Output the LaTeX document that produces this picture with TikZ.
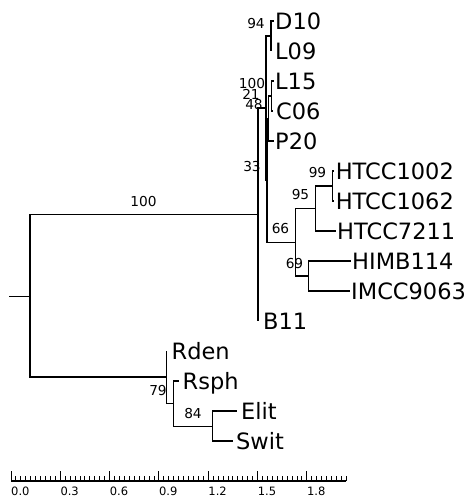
\documentclass[tikz,border=0pt]{standalone}
\usepackage{fontspec}
\setmainfont{DejaVu Sans}
\begin{document}
\begin{tikzpicture}[x=1pt,y=-1pt,
  hb/.style={line width=1.5pt,line cap=rect},
  vb/.style={line width=1.2pt},
  leaf/.style={anchor=base west,inner sep=0pt,font=\fontsize{22.5}{23}\selectfont},
  sup/.style={anchor=base,inner sep=0pt,font=\fontsize{13.7}{14}\selectfont},
  sclab/.style={anchor=base west,inner sep=0pt,font=\fontsize{11.5}{12}\selectfont},
  tick/.style={line width=1pt},
  scaleline/.style={line width=1.2pt},
]
\useasboundingbox (0,0) rectangle (469,504);

% ---- internal nodes and tips
\coordinate (stub) at (10,296.5);
\coordinate (R) at (30,296.5);
\coordinate (U) at (258,214.4);
\coordinate (A) at (266,108);
\coordinate (N94) at (271,36);
\coordinate (tD10) at (273,21);
\coordinate (tL09) at (271,51);
\coordinate (N33) at (267,180);
\coordinate (N48) at (268.7,118.5);
\coordinate (N100) at (271.3,96);
\coordinate (tL15) at (273,81);
\coordinate (tC06) at (272.5,111);
\coordinate (tP20) at (273,141);
\coordinate (N66) at (295.7,242.5);
\coordinate (N95) at (315.7,208.5);
\coordinate (N99) at (332.3,186);
\coordinate (tH1002) at (333.5,171);
\coordinate (tH1062) at (333.5,201);
\coordinate (tH7211) at (335.7,231);
\coordinate (N69) at (308.3,276);
\coordinate (tHIMB) at (350,261);
\coordinate (tIMCC) at (349,291);
\coordinate (tB11) at (258,321);
\coordinate (Rn) at (166.5,377);
\coordinate (tRden) at (166.5,351);
\coordinate (N79) at (173.3,403.5);
\coordinate (tRsph) at (178,381);
\coordinate (N84) at (212.7,426.5);
\coordinate (tElit) at (236.7,411);
\coordinate (tSwit) at (232.5,441);

% ---- vertical lines
\draw[vb] (R |- U) -- (R |- Rn);
\draw[vb] (U |- A) -- (U |- tB11);
\draw[vb] (A |- N94) -- (A |- N33);
\draw[vb] (N94 |- tD10) -- (N94 |- tL09);
\draw[vb] (N33 |- N48) -- (N33 |- N66);
\draw[vb] (N48 |- N100) -- (N48 |- tP20);
\draw[vb] (N100 |- tL15) -- (N100 |- tC06);
\draw[vb] (N66 |- N95) -- (N66 |- N69);
\draw[vb] (N95 |- N99) -- (N95 |- tH7211);
\draw[vb] (N99 |- tH1002) -- (N99 |- tH1062);
\draw[vb] (N69 |- tHIMB) -- (N69 |- tIMCC);
\draw[vb] (Rn |- tRden) -- (Rn |- N79);
\draw[vb] (N79 |- tRsph) -- (N79 |- N84);
\draw[vb] (N84 |- tElit) -- (N84 |- tSwit);

% ---- horizontal lines
\draw[hb] (stub) -- (R);
\draw[hb] (R |- U) -- (U);
\draw[hb] (R |- Rn) -- (Rn);
\draw[hb] (U |- A) -- (A);
\draw[hb] (A |- N94) -- (N94);
\draw[hb] (A |- N33) -- (N33);
\draw[hb] (N94 |- tD10) -- (tD10);
\draw[hb] (N33 |- N48) -- (N48);
\draw[hb] (N33 |- N66) -- (N66);
\draw[hb] (N48 |- N100) -- (N100);
\draw[hb] (N48 |- tP20) -- (tP20);
\draw[hb] (N100 |- tL15) -- (tL15);
\draw[hb] (N100 |- tC06) -- (tC06);
\draw[hb] (N66 |- N95) -- (N95);
\draw[hb] (N66 |- N69) -- (N69);
\draw[hb] (N95 |- N99) -- (N99);
\draw[hb] (N95 |- tH7211) -- (tH7211);
\draw[hb] (N99 |- tH1002) -- (tH1002);
\draw[hb] (N99 |- tH1062) -- (tH1062);
\draw[hb] (N69 |- tHIMB) -- (tHIMB);
\draw[hb] (N69 |- tIMCC) -- (tIMCC);
\draw[hb] (Rn |- N79) -- (N79);
\draw[hb] (N79 |- tRsph) -- (tRsph);
\draw[hb] (N79 |- N84) -- (N84);
\draw[hb] (N84 |- tElit) -- (tElit);
\draw[hb] (N84 |- tSwit) -- (tSwit);

% ---- leaf labels
\node[leaf] (D10) at (275,29.2) {D10};
\node[leaf] (L09) at (275,59.2) {L09};
\node[leaf] (L15) at (275,89.2) {L15};
\node[leaf] (C06) at (276,119.2) {C06};
\node[leaf] (P20) at (275,149.2) {P20};
\node[leaf] (HTCC1002) at (335.6,179.2) {HTCC1002};
\node[leaf] (HTCC1062) at (335.6,209.2) {HTCC1062};
\node[leaf] (HTCC7211) at (337,239.2) {HTCC7211};
\node[leaf] (HIMB114) at (352,269.2) {HIMB114};
\node[leaf] (IMCC9063) at (351,299.2) {IMCC9063};
\node[leaf] (B11) at (263,329.2) {B11};
\node[leaf] (Rden) at (171.5,359.2) {Rden};
\node[leaf] (Rsph) at (182.5,389.2) {Rsph};
\node[leaf] (Elit) at (241,419.2) {Elit};
\node[leaf] (Swit) at (236,449.2) {Swit};

% ---- support values
\node[sup] (s94) at (256,28) {94};
\node[sup] (s100a) at (252,88) {100};
\node[sup] (s21) at (251,99) {21};
\node[sup] (s48) at (254,109) {48};
\node[sup] (s33) at (252,171.5) {33};
\node[sup] (s99) at (317.5,177.5) {99};
\node[sup] (s95) at (300.5,199.5) {95};
\node[sup] (s66) at (280.5,233.5) {66};
\node[sup] (s69) at (294.5,268) {69};
\node[sup] (s100) at (143.5,206) {100};
\node[sup] (s79) at (158,395) {79};
\node[sup] (s84) at (193,418) {84};

% ---- scale bar
\coordinate (sb0) at (11,481);
\coordinate (sb1) at (346.4,481);
\draw[scaleline] (sb0) -- (sb1);
\foreach \i in {0,...,68}{
  \pgfmathsetmacro{\tx}{11+\i*4.932}
  \pgfmathsetmacro{\th}{mod(\i,10)==0 ? 10 : 5}
  \draw[tick] (\tx,481) -- (\tx,{481-\th});
}
\foreach \v [count=\k from 0] in {0.0,0.3,0.6,0.9,1.2,1.5,1.8}{
  \node[sclab] (sl\k) at ({11+\k*49.32},495.5) {\v};
}
\end{tikzpicture}
\end{document}
